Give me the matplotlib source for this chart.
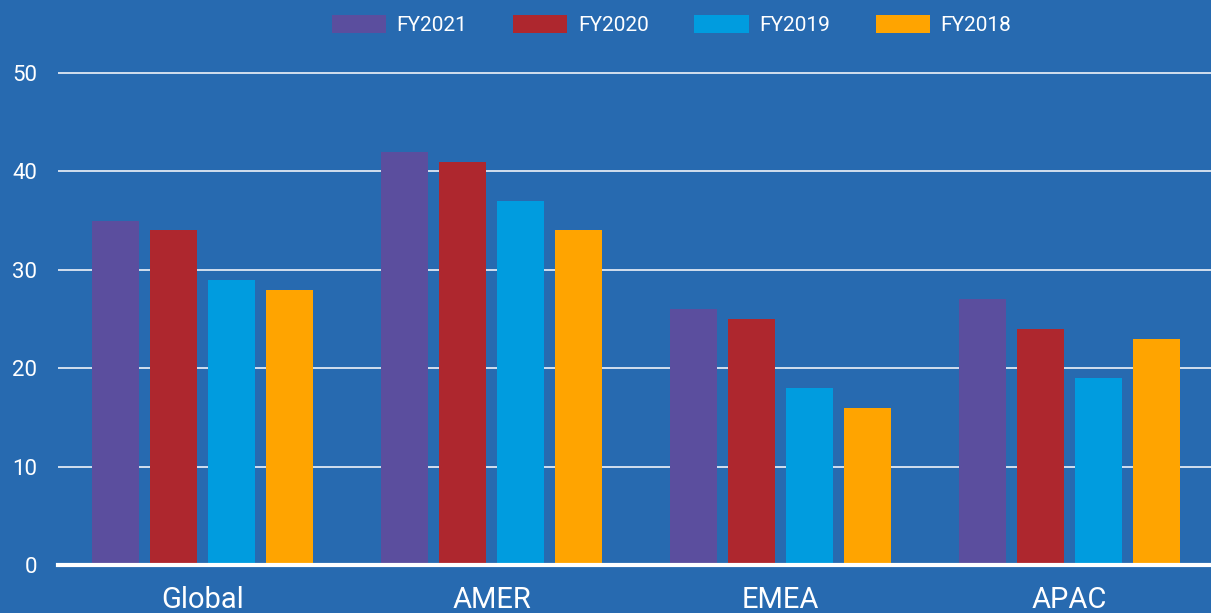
import numpy as np
import matplotlib
matplotlib.use("Agg")
import matplotlib.pyplot as plt

regions = ["Global", "AMER", "EMEA", "APAC"]
series = ["FY2021", "FY2020", "FY2019", "FY2018"]
fy2021 = [35, 42, 26, 27]
fy2020 = [34, 41, 25, 24]
fy2019 = [29, 37, 18, 19]
fy2018 = [28, 34, 16, 23]
colors = ["#5b4e9e", "#ae272e", "#009cdf", "#ffa400"]
bg = "#276ab0"

plt.rcParams['font.family'] = ['Roboto', 'DejaVu Sans']

fig = plt.figure(figsize=(12.11, 6.13), dpi=100, facecolor=bg)
ax = fig.add_axes([58 / 1211, 48 / 613, 1156 / 1211, 501.8 / 613])
ax.set_facecolor(bg)

x = np.arange(len(regions))
step = 0.2
width = 0.163
for i, (name, vals) in enumerate(zip(series, [fy2021, fy2020, fy2019, fy2018])):
    ax.bar(x + (i - 1.5) * step, vals, width, color=colors[i], label=name, zorder=3)

ax.set_xlim(-0.5, 3.5)
ax.set_ylim(0, 51)
ax.set_yticks([0, 10, 20, 30, 40, 50])
ax.yaxis.grid(True, color="#dfe8f3", linewidth=1.3, zorder=1)
ax.axhline(0, color="white", linewidth=3, zorder=4, clip_on=False)
ax.set_xticks(x)
ax.set_xticklabels(regions)
ax.tick_params(axis="y", length=0, pad=15, labelsize=16, labelcolor="white")
ax.tick_params(axis="x", length=0, pad=15, labelsize=21, labelcolor="white")
for s in ax.spines.values():
    s.set_visible(False)

leg = fig.legend(loc="upper left", bbox_to_anchor=(332 / 1211, 1 - 15 / 613), ncol=4,
                 frameon=False, fontsize=15, handlelength=2.6, handleheight=0.95,
                 handletextpad=0.5, columnspacing=2.2, borderpad=0, borderaxespad=0)
for t in leg.get_texts():
    t.set_color("white")

fig.savefig("out.png", dpi=100, facecolor=bg)
